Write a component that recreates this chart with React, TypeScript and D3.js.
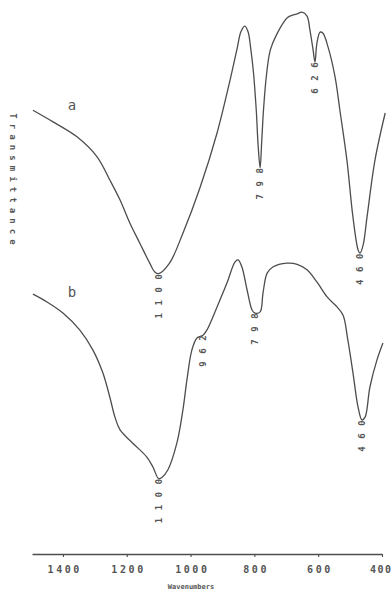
import React, { useRef, useEffect } from 'react';
import * as d3 from 'd3';

// IR spectra: wavenumber (cm-1) vs transmittance (arbitrary %)
const wavenumbersA = [1494, 1431, 1356, 1293, 1253, 1221, 1190, 1159, 1128, 1112, 1100, 1066, 1024, 970, 917, 876, 855, 842, 830, 820, 812, 803, 794, 788, 782, 777, 771, 762, 750, 730, 697, 678, 666, 651, 635, 626, 616, 610, 604, 594, 585, 569, 547, 532, 510, 491, 475, 469, 459, 447, 422, 390];
const transmittanceA = [80.1, 78.0, 75.3, 71.7, 67.5, 63.9, 59.7, 56.1, 52.5, 50.9, 50.6, 52.5, 57.9, 66.2, 76.0, 85.6, 91.0, 94.3, 95.3, 94.3, 91.5, 87.0, 80.0, 73.5, 69.7, 74.5, 80.5, 86.5, 91.0, 93.8, 96.8, 97.3, 97.5, 97.8, 97.1, 94.6, 91.0, 88.8, 92.2, 94.2, 94.0, 91.5, 86.1, 80.1, 71.1, 60.8, 54.9, 54.3, 55.8, 60.8, 71.1, 79.6];

const wavenumbersB = [1494, 1450, 1400, 1347, 1306, 1275, 1253, 1237, 1221, 1181, 1137, 1118, 1100, 1090, 1071, 1043, 1024, 1011, 996, 980, 961, 949, 917, 886, 861, 851, 839, 823, 807, 798, 782, 773, 760, 742, 698, 666, 635, 604, 572, 541, 522, 507, 491, 475, 463, 453, 438, 416, 397];
const transmittanceB = [46.9, 45.5, 43.5, 40.4, 36.8, 32.7, 28.3, 24.7, 22.4, 20.0, 17.5, 15.7, 13.6, 13.8, 15.2, 20.0, 26.0, 31.6, 36.8, 39.0, 39.5, 40.4, 44.6, 48.9, 52.7, 53.1, 51.8, 47.7, 44.0, 43.5, 43.7, 47.1, 50.7, 51.8, 52.5, 52.3, 51.3, 49.1, 46.4, 44.6, 43.1, 38.6, 32.7, 26.5, 24.2, 24.7, 30.1, 35.0, 38.1];

// band labels: text and the wavenumber of the dip it sits under
const bandLabelsA = [['1100', 1100], ['798', 782], ['626', 610], ['460', 469]];
const bandLabelsB = [['1100', 1100], ['962', 961], ['798', 798], ['460', 463]];

const tickValues = [1400, 1200, 1000, 800, 600, 400];
const curveNames = ['a', 'b'];

const App: React.FC = () => {
  const svgRef = useRef<SVGSVGElement | null>(null);

  useEffect(() => {
    document.body.style.margin = '0';
    const svg = d3.select(svgRef.current);
    svg.selectAll('*').remove();
    const width = 392;
    const height = 594;
    const ink = '#4d4d4d';
    const mono = '"DejaVu Sans Mono", "Liberation Mono", monospace';

    svg.attr('width', width).attr('height', height).style('background', '#fff');

    const x = d3.scaleLinear().domain([1497, 400]).range([32, 382]);
    const y = d3.scaleLinear().domain([0, 100]).range([554, 0]);

    // x axis
    const axis = svg.append('g')
      .attr('transform', `translate(0,${y(0)})`)
      .call(d3.axisBottom(x).tickValues(tickValues).tickSize(3).tickSizeOuter(0).tickPadding(9).tickFormat(d3.format('d')));
    axis.select('.domain').attr('stroke', ink).attr('stroke-width', 1.3);
    axis.selectAll('line').attr('stroke', ink).attr('stroke-width', 1.1);
    axis.selectAll('text')
      .attr('fill', '#555')
      .attr('dx', 1.3)
      .style('font-family', mono)
      .style('font-size', '10px')
      .style('font-weight', 'bold')
      .style('letter-spacing', '2.6px');
    // last label sits against the right edge
    axis.selectAll<SVGTextElement, number>('text')
      .filter(d => d === 400)
      .attr('text-anchor', 'end')
      .attr('dx', 10)
      .style('letter-spacing', '1.5px');

    svg.append('text')
      .attr('x', 191)
      .attr('y', 589)
      .attr('text-anchor', 'middle')
      .attr('fill', '#555')
      .style('font-family', mono)
      .style('font-size', '7px')
      .style('font-weight', 'bold')
      .text('Wavenumbers');

    // y label, letters stacked and turned clockwise
    const yLabel = 'Transmittance';
    svg.append('g')
      .selectAll('text')
      .data(yLabel.split(''))
      .enter()
      .append('text')
      .attr('transform', (_d, i) => `translate(13,${116 + i * 10.5}) rotate(90)`)
      .attr('text-anchor', 'middle')
      .attr('dominant-baseline', 'central')
      .attr('fill', '#555')
      .style('font-family', mono)
      .style('font-size', '9px')
      .style('font-weight', 'bold')
      .text(d => d);

    const line = d3.line<[number, number]>()
      .x(d => x(d[0]))
      .y(d => y(d[1]))
      .curve(d3.curveCatmullRom.alpha(0.5));

    const series = [
      { w: wavenumbersA, t: transmittanceA, labels: bandLabelsA },
      { w: wavenumbersB, t: transmittanceB, labels: bandLabelsB },
    ];

    series.forEach((s, si) => {
      const pts = s.w.map((w, i) => [w, s.t[i]] as [number, number]);
      svg.append('path')
        .attr('d', line(pts))
        .attr('fill', 'none')
        .attr('stroke', ink)
        .attr('stroke-width', 1.3)
        .attr('stroke-linejoin', 'round');

      // curve name near its start
      svg.append('text')
        .attr('x', x(s.w[0]) + 39)
        .attr('y', y(s.t[0]) + (si === 0 ? 0 : 3))
        .attr('text-anchor', 'middle')
        .attr('fill', '#555')
        .style('font-family', mono)
        .style('font-size', '14px')
        .text(curveNames[si]);

      // band labels hang below the dips, read bottom to top
      s.labels.forEach(([txt, w]) => {
        const idx = s.w.indexOf(w as number);
        const px = x(w as number);
        const py = y(s.t[idx]) + 3;
        const chars = (txt as string).split('').reverse();
        svg.append('g')
          .selectAll('text')
          .data(chars)
          .enter()
          .append('text')
          .attr('transform', (_d, k) => `translate(${px},${py + k * 13}) rotate(-90)`)
          .attr('text-anchor', 'middle')
          .attr('dominant-baseline', 'central')
          .attr('fill', '#555')
          .style('font-family', mono)
          .style('font-size', '9px')
          .style('font-weight', 'bold')
          .text(d => d);
      });
    });
  }, []);

  return <svg ref={svgRef} style={{ position: 'absolute', top: 0, left: 0 }}></svg>;
};

export default App;
